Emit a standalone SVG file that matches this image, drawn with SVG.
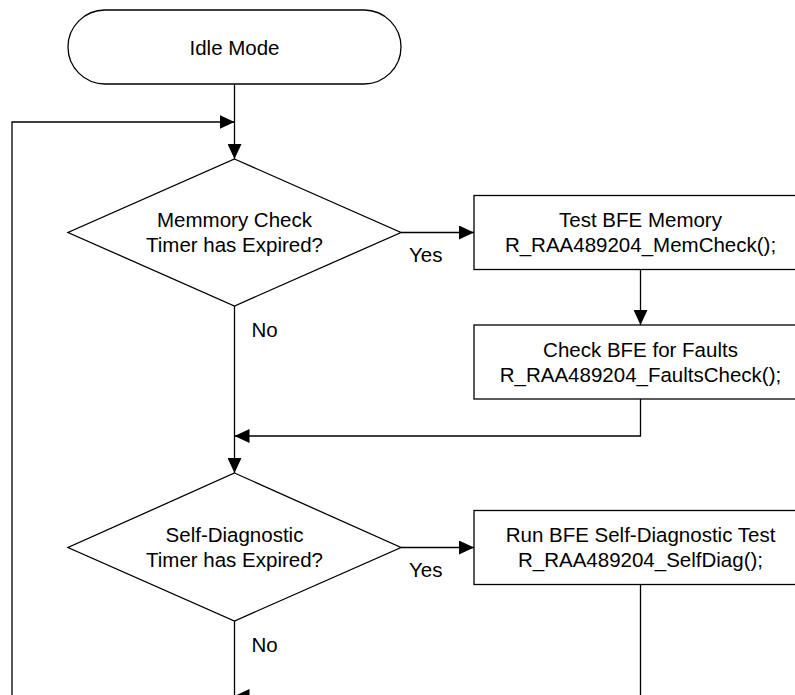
<svg xmlns="http://www.w3.org/2000/svg" width="795" height="695" viewBox="0 0 795 695">
<style>
.shape{fill:#fff;stroke:#000;stroke-width:1.3}
.conn{fill:none;stroke:#000;stroke-width:1.3}
text{font-family:"Liberation Sans",Arial,sans-serif;font-size:20.5px;fill:#000}
.c{text-anchor:middle}
</style>
<defs>
<marker id="arr" markerUnits="userSpaceOnUse" markerWidth="16" markerHeight="14" refX="15" refY="7" orient="auto">
<path d="M0,0 L15,7 L0,14 z" fill="#000"/>
</marker>
</defs>
<rect width="795" height="695" fill="#fff"/>
<g id="connectors">
<path class="conn" d="M234.5,84 V159" marker-end="url(#arr)"/>
<path class="conn" d="M12,700 V122 H234.5" marker-end="url(#arr)"/>
<path class="conn" d="M401,232.5 H474" marker-end="url(#arr)"/>
<path class="conn" d="M640.5,269.5 V325" marker-end="url(#arr)"/>
<path class="conn" d="M640.5,399 V436 H234.5" marker-end="url(#arr)"/>
<path class="conn" d="M234.5,306 V473" marker-end="url(#arr)"/>
<path class="conn" d="M401,547.5 H474" marker-end="url(#arr)"/>
<path class="conn" d="M640.5,584.5 V696 H234.5" marker-end="url(#arr)"/>
<path class="conn" d="M234.5,621 V700"/>
<text x="409" y="262">Yes</text>
<text x="251.5" y="336.5">No</text>
<text x="409" y="577">Yes</text>
<text x="251.5" y="652">No</text>
</g>
<g id="idle">
<rect class="shape" x="68" y="10" width="333" height="74" rx="37" ry="37"/>
<text class="c" x="234.5" y="55">Idle Mode</text>
</g>
<g id="memcheck-decision">
<polygon class="shape" points="234.5,159 401,232.5 234.5,306 68,232.5"/>
<text class="c" x="234.5" y="227.3">Memmory Check</text>
<text class="c" x="234.5" y="252.3">Timer has Expired?</text>
</g>
<g id="test-memory">
<rect class="shape" x="474" y="195.5" width="333" height="74"/>
<text class="c" x="640.5" y="227">Test BFE Memory</text>
<text class="c" x="640.5" y="251.7">R_RAA489204_MemCheck();</text>
</g>
<g id="faults-check">
<rect class="shape" x="474" y="325" width="333" height="74"/>
<text class="c" x="640.5" y="356.7">Check BFE for Faults</text>
<text class="c" x="640.5" y="381.5">R_RAA489204_FaultsCheck();</text>
</g>
<g id="selfdiag-decision">
<polygon class="shape" points="234.5,473 401,547.5 234.5,621 68,547.5"/>
<text class="c" x="234.5" y="541.7">Self-Diagnostic</text>
<text class="c" x="234.5" y="566.7">Timer has Expired?</text>
</g>
<g id="selfdiag-test">
<rect class="shape" x="474" y="510.5" width="333" height="74"/>
<text class="c" x="640.5" y="541.7">Run BFE Self-Diagnostic Test</text>
<text class="c" x="640.5" y="566.7">R_RAA489204_SelfDiag();</text>
</g>
</svg>
